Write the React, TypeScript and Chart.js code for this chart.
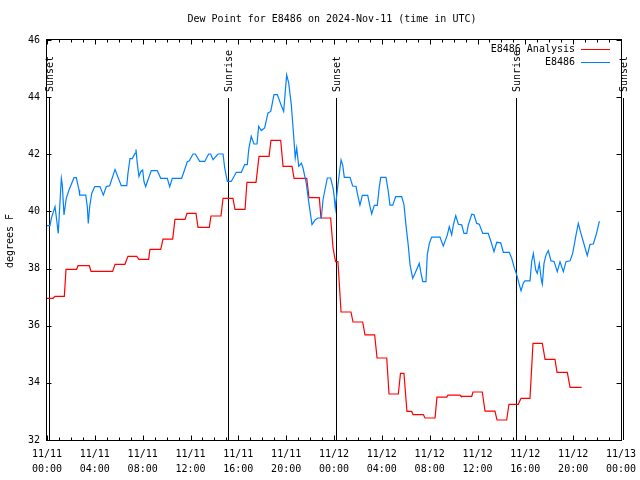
import React, { useEffect, useRef } from "react";
import { Chart, registerables } from "chart.js";

Chart.register(...registerables);

const TITLE = "Dew Point for E8486 on 2024-Nov-11 (time in UTC)";
const Y_TITLE = "degrees F";
const SERIES_NAMES = ["E8486 Analysis", "E8486"];
const SERIES_COLORS = ["#ff0000", "#0080ff"];

const xTickHours = [0, 4, 8, 12, 16, 20, 24, 28, 32, 36, 40, 44, 48];
const xTickLabels = [
  "11/11\n00:00", "11/11\n04:00", "11/11\n08:00", "11/11\n12:00", "11/11\n16:00",
  "11/11\n20:00", "11/12\n00:00", "11/12\n04:00", "11/12\n08:00", "11/12\n12:00",
  "11/12\n16:00", "11/12\n20:00", "11/13\n00:00",
];
const yTicks = [32, 34, 36, 38, 40, 42, 44, 46];

const sunLabels = ["Sunset", "Sunrise", "Sunset", "Sunrise", "Sunset"];
const sunHours = [0.19, 15.16, 24.17, 39.25, 48.17];

// hours since 11/11 00:00 UTC
const analysisHours = [
  0.0, 0.5, 0.67, 1.45, 1.59, 2.48, 2.59, 3.54, 3.68, 5.49, 5.69, 6.52, 6.77, 7.5, 7.69, 8.5,
  8.61, 9.51, 9.7, 10.51, 10.7, 11.54, 11.71, 12.46, 12.63, 13.57, 13.71, 14.55, 14.72, 15.55,
  15.72, 16.56, 16.72, 17.48, 17.73, 18.57, 18.73, 19.54, 19.74, 20.49, 20.66, 21.72, 21.91,
  22.77, 22.91, 23.72, 23.92, 24.13, 24.33, 24.59, 25.42, 25.59, 26.4, 26.59, 27.4, 27.6, 28.41,
  28.6, 29.38, 29.56, 29.85, 30.1, 30.5, 30.61, 31.47, 31.61, 32.45, 32.61, 33.43, 33.53, 34.54,
  34.62, 35.52, 35.62, 36.4, 36.63, 37.46, 37.63, 38.44, 38.63, 39.41, 39.64, 40.39, 40.64,
  41.42, 41.65, 42.48, 42.65, 43.51, 43.74, 44.71,
];
const analysisValues = [
  36.96, 36.96, 37.03, 37.03, 37.97, 37.97, 38.1, 38.1, 37.9, 37.9, 38.15, 38.15, 38.43, 38.43,
  38.32, 38.32, 38.67, 38.67, 39.03, 39.03, 39.72, 39.72, 39.93, 39.93, 39.44, 39.44, 39.84,
  39.84, 40.46, 40.46, 40.07, 40.07, 41.02, 41.02, 41.93, 41.93, 42.49, 42.49, 41.58, 41.58,
  41.16, 41.16, 40.48, 40.48, 39.77, 39.77, 38.72, 38.24, 38.24, 36.48, 36.48, 36.13, 36.13,
  35.68, 35.68, 34.87, 34.87, 33.61, 33.61, 34.33, 34.33, 33.0, 33.0, 32.89, 32.89, 32.77, 32.77,
  33.5, 33.5, 33.57, 33.57, 33.53, 33.53, 33.68, 33.68, 33.01, 33.01, 32.7, 32.7, 33.25, 33.25,
  33.46, 33.46, 35.38, 35.38, 34.82, 34.82, 34.37, 34.37, 33.84, 33.84,
];

const obsHours = [
  0.0, 0.25, 0.36, 0.67, 0.81, 0.94, 1.15, 1.2, 1.28, 1.42, 1.61, 1.84, 2.26, 2.45, 2.68, 2.73,
  3.24, 3.37, 3.45, 3.57, 3.74, 3.99, 4.43, 4.71, 4.96, 5.24, 5.69, 6.21, 6.67, 6.77, 6.94, 7.13,
  7.36, 7.44, 7.55, 7.69, 7.84, 8.0, 8.11, 8.25, 8.72, 9.22, 9.51, 10.06, 10.26, 10.48, 11.26,
  11.6, 11.73, 11.9, 12.21, 12.4, 12.77, 13.19, 13.52, 13.69, 13.88, 14.3, 14.72, 14.86, 15.08,
  15.41, 15.83, 16.25, 16.53, 16.75, 16.87, 17.08, 17.31, 17.56, 17.7, 17.92, 18.2, 18.48, 18.71,
  18.98, 19.26, 19.59, 19.79, 19.93, 20.04, 20.21, 20.43, 20.66, 20.76, 20.88, 21.05, 21.27,
  21.41, 21.68, 21.88, 22.16, 22.44, 22.66, 22.94, 23.08, 23.44, 23.72, 23.92, 24.0, 24.11,
  24.23, 24.36, 24.59, 24.73, 24.86, 25.34, 25.56, 25.84, 25.98, 26.17, 26.37, 26.82, 27.01,
  27.15, 27.37, 27.62, 27.79, 27.91, 28.35, 28.54, 28.68, 28.91, 29.16, 29.66, 29.85, 30.02,
  30.21, 30.36, 30.58, 30.77, 31.13, 31.25, 31.42, 31.69, 31.8, 31.97, 32.17, 32.86, 33.14,
  33.48, 33.64, 33.84, 33.98, 34.18, 34.4, 34.68, 34.87, 35.1, 35.23, 35.52, 35.71, 35.93, 36.15,
  36.44, 36.9, 37.13, 37.38, 37.61, 37.94, 38.16, 38.66, 38.86, 39.05, 39.28, 39.5, 39.64, 39.83,
  39.97, 40.39, 40.53, 40.67, 40.87, 41.0, 41.17, 41.34, 41.42, 41.56, 41.73, 41.92, 42.15, 42.4,
  42.67, 42.9, 43.18, 43.4, 43.74, 43.96, 44.24, 44.43, 44.63, 44.85, 45.18, 45.41, 45.69, 45.97,
  46.19,
];
const obsValues = [
  39.5, 39.5, 39.76, 40.17, 39.7, 39.23, 40.81, 41.16, 40.93, 39.88, 40.46, 40.75, 41.18, 41.18,
  40.75, 40.57, 40.57, 40.17, 39.58, 40.17, 40.63, 40.87, 40.87, 40.57, 40.87, 40.9, 41.47, 40.9,
  40.9, 41.33, 41.85, 41.85, 42.03, 42.17, 41.68, 41.22, 41.39, 41.45, 41.04, 40.87, 41.43,
  41.43, 41.16, 41.16, 40.87, 41.16, 41.16, 41.57, 41.74, 41.77, 42.01, 42.01, 41.75, 41.75,
  42.01, 42.01, 41.81, 42.01, 42.01, 41.52, 41.05, 41.05, 41.37, 41.37, 41.64, 41.64, 42.17,
  42.63, 42.36, 42.36, 42.98, 42.83, 42.92, 43.45, 43.5, 44.09, 44.09, 43.71, 43.5, 44.22, 44.78,
  44.5, 43.74, 42.45, 41.87, 42.22, 41.58, 41.69, 41.52, 40.99, 40.35, 39.54, 39.71, 39.77,
  39.77, 40.41, 41.17, 41.17, 40.82, 40.58, 40.11, 40.58, 41.04, 41.8, 41.62, 41.19, 41.19,
  40.89, 40.88, 40.58, 40.22, 40.56, 40.56, 40.17, 39.91, 40.21, 40.21, 40.87, 41.19, 41.19,
  40.7, 40.22, 40.22, 40.52, 40.52, 40.24, 39.51, 38.81, 38.13, 37.66, 37.83, 38.18, 37.89,
  37.54, 37.54, 38.48, 38.88, 39.1, 39.1, 38.79, 39.18, 39.47, 39.18, 39.53, 39.85, 39.55, 39.53,
  39.23, 39.23, 39.53, 39.9, 39.88, 39.58, 39.55, 39.23, 39.23, 38.94, 38.59, 38.92, 38.9, 38.57,
  38.57, 38.36, 38.07, 37.78, 37.43, 37.22, 37.49, 37.57, 37.57, 38.24, 38.53, 37.95, 37.83,
  38.18, 37.6, 37.45, 38.18, 38.48, 38.63, 38.27, 38.25, 37.89, 38.24, 37.89, 38.24, 38.27,
  38.53, 39.18, 39.58, 39.26, 38.94, 38.45, 38.85, 38.86, 39.26, 39.66,
];

const FAMILY = '"DejaVu Sans Mono", "Liberation Mono", monospace';
const FONT = `10px ${FAMILY}`;

const decorPlugin = {
  id: "decor",
  beforeDatasetsDraw(chart: any) {
    const { ctx, chartArea: a, scales } = chart;
    const x = scales.x;
    ctx.save();
    ctx.strokeStyle = "#000";
    ctx.lineWidth = 1;
    ctx.fillStyle = "#000";
    ctx.font = FONT;
    const h = a.bottom - a.top;
    const lineTop = a.top + h * 0.145;
    const textStart = a.top + h * 0.13;
    sunHours.forEach((hr, i) => {
      const px = Math.round(x.getPixelForValue(hr)) + 0.5;
      ctx.beginPath();
      ctx.moveTo(px, a.bottom);
      ctx.lineTo(px, lineTop);
      ctx.stroke();
      ctx.save();
      ctx.translate(px + 1, textStart);
      ctx.rotate(-Math.PI / 2);
      ctx.textAlign = "left";
      ctx.textBaseline = "middle";
      ctx.fillText(sunLabels[i], 0, 0);
      ctx.restore();
    });
    ctx.restore();
  },
  afterDatasetsDraw(chart: any) {
    const { ctx, chartArea: a, scales } = chart;
    const x = scales.x;
    const y = scales.y;
    ctx.save();
    ctx.strokeStyle = "#000";
    ctx.lineWidth = 1;
    const L = Math.round(a.left) - 0.5;
    const R = Math.round(a.right) + 0.5;
    const T = Math.round(a.top) - 0.5;
    const B = Math.round(a.bottom) + 0.5;
    ctx.beginPath();
    for (let hr = 0; hr <= 48; hr++) {
      const px = Math.round(x.getPixelForValue(hr)) + 0.5;
      const len = hr % 4 === 0 ? 5 : 3;
      ctx.moveTo(px, B);
      ctx.lineTo(px, B - len);
      ctx.moveTo(px, T);
      ctx.lineTo(px, T + len);
    }
    yTicks.forEach((v) => {
      const py = Math.round(y.getPixelForValue(v)) + 0.5;
      ctx.moveTo(L, py);
      ctx.lineTo(L + 5, py);
      ctx.moveTo(R, py);
      ctx.lineTo(R - 5, py);
    });
    ctx.stroke();
    ctx.strokeRect(L, T, R - L, B - T);
    ctx.restore();
  },
  afterDraw(chart: any) {
    const { ctx, chartArea: a } = chart;
    ctx.save();
    ctx.fillStyle = "#000";
    ctx.font = FONT;
    ctx.textBaseline = "middle";
    ctx.textAlign = "center";
    ctx.fillText(TITLE, (a.left + a.right) / 2 - 2, 19);
    ctx.save();
    ctx.translate(10, 241);
    ctx.rotate(-Math.PI / 2);
    ctx.fillText(Y_TITLE, 0, 0);
    ctx.restore();
    // legend
    const rowsY = [49.5, 62.5];
    SERIES_NAMES.forEach((name, i) => {
      ctx.textAlign = "right";
      ctx.fillStyle = "#000";
      ctx.fillText(name, 575, rowsY[i]);
      ctx.strokeStyle = SERIES_COLORS[i];
      ctx.lineWidth = 1;
      ctx.beginPath();
      const ly = Math.round(rowsY[i]) - 0.5;
      ctx.moveTo(581, ly);
      ctx.lineTo(610, ly);
      ctx.stroke();
    });
    ctx.restore();
  },
};

export default function App() {
  const canvasRef = useRef<HTMLCanvasElement | null>(null);

  useEffect(() => {
    const canvas = canvasRef.current;
    if (!canvas) return;
    const chart = new Chart(canvas, {
      type: "line",
      data: {
        datasets: [
          {
            label: SERIES_NAMES[0],
            data: analysisHours.map((h, i) => ({ x: h, y: analysisValues[i] })),
            borderColor: SERIES_COLORS[0],
            backgroundColor: SERIES_COLORS[0],
            borderWidth: 1.2,
            pointRadius: 0,
            tension: 0,
            fill: false,
            order: 1,
          },
          {
            label: SERIES_NAMES[1],
            data: obsHours.map((h, i) => ({ x: h, y: obsValues[i] })),
            borderColor: SERIES_COLORS[1],
            backgroundColor: SERIES_COLORS[1],
            borderWidth: 1.2,
            pointRadius: 0,
            tension: 0,
            fill: false,
            order: 0,
          },
        ],
      },
      options: {
        animation: false,
        responsive: false,
        maintainAspectRatio: false,
        devicePixelRatio: 1,
        layout: { padding: { top: 40, right: 19, left: 0, bottom: 0 } },
        plugins: {
          legend: { display: false },
          title: { display: false },
          tooltip: { enabled: false },
        },
        scales: {
          x: {
            type: "linear",
            min: 0,
            max: 48,
            afterBuildTicks: (s: any) => {
              s.ticks = xTickHours.map((v) => ({ value: v }));
            },
            afterFit: (s: any) => {
              s.height = 40;
              s.paddingLeft = 0;
              s.paddingRight = 0;
            },
            grid: { display: false, drawTicks: false },
            border: { display: false },
            ticks: {
              autoSkip: false,
              maxRotation: 0,
              minRotation: 0,
              padding: 7,
              color: "#000",
              font: { family: FAMILY, size: 10, lineHeight: 1.5 },
              callback: (v: any) => {
                const i = xTickHours.indexOf(Number(v));
                return i >= 0 ? xTickLabels[i].split("\n") : "";
              },
            },
          },
          y: {
            type: "linear",
            min: 32,
            max: 46,
            afterBuildTicks: (s: any) => {
              s.ticks = yTicks.map((v) => ({ value: v }));
            },
            afterFit: (s: any) => {
              s.width = 47;
              s.paddingTop = 0;
              s.paddingBottom = 0;
            },
            grid: { display: false, drawTicks: false },
            border: { display: false },
            ticks: {
              padding: 7,
              color: "#000",
              font: { family: FAMILY, size: 10 },
              callback: (v: any) => String(v),
            },
          },
        },
      },
      plugins: [decorPlugin],
    });
    return () => chart.destroy();
  }, []);

  return (
    <div style={{ position: "absolute", left: 0, top: 0, width: 640, height: 480, background: "#fff" }}>
      <canvas ref={canvasRef} width={640} height={480} style={{ width: 640, height: 480 }} />
    </div>
  );
}
